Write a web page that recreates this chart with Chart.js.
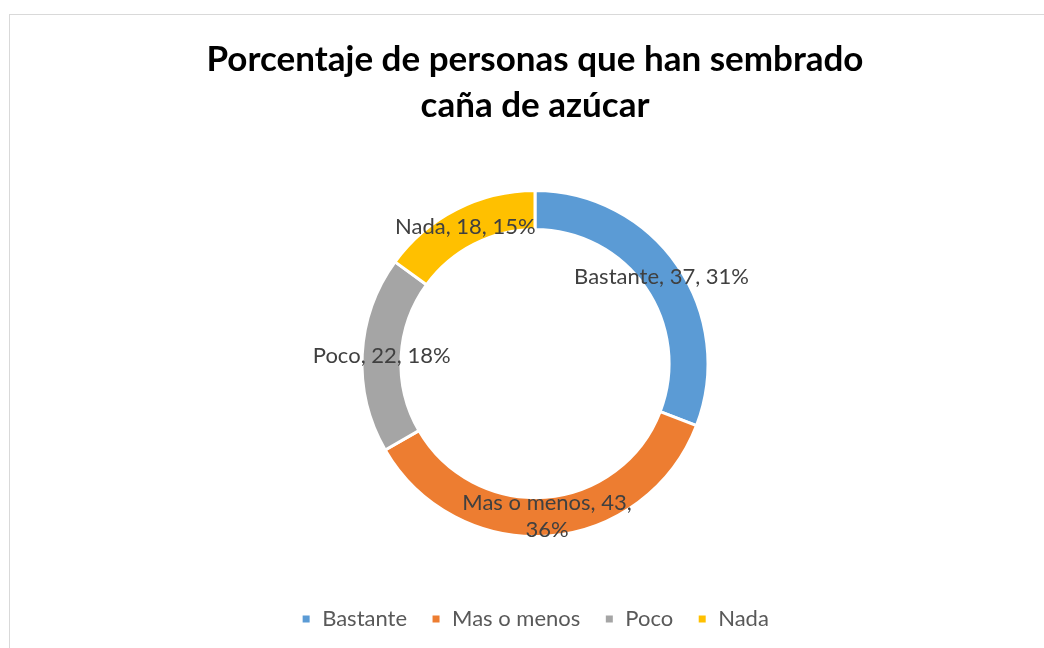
<!DOCTYPE html>
<html>
<head>
<meta charset="utf-8">
<script src="https://cdn.jsdelivr.net/npm/chart.js@4.4.1/dist/chart.umd.min.js"></script>
<style>
  html, body { margin: 0; padding: 0; background: #fff; overflow: hidden; }
  #wrap { position: relative; width: 1044px; height: 648px; }
  #frame { position: absolute; left: 9px; top: 14px; width: 1100px; height: 700px;
           border: 1px solid #d9d9d9; box-sizing: border-box; pointer-events: none; }
  canvas { position: absolute; left: 0; top: 0; }
</style>
</head>
<body>
<div id="wrap">
  <canvas id="chart" width="1044" height="648"></canvas>
  <div id="frame"></div>
</div>
<script>
const categories = ["Bastante", "Mas o menos", "Poco", "Nada"];
const values = [37, 43, 22, 18];
const percents = [31, 36, 18, 15];
const colors = ["#5B9BD5", "#ED7D31", "#A5A5A5", "#FFC000"];
const titleLines = ["Porcentaje de personas que han sembrado", "caña de azúcar"];

// etiquetas estilo Excel: "Categoria, valor, %" en el centro del anillo
const ringLabels = {
  id: "ringLabels",
  afterDatasetsDraw(chart) {
    const ctx = chart.ctx;
    const meta = chart.getDatasetMeta(0);
    ctx.save();
    ctx.font = "22px Lato";
    ctx.fillStyle = "#404040";
    ctx.textAlign = "center";
    ctx.textBaseline = "middle";
    meta.data.forEach((arc, i) => {
      const pos = arc.tooltipPosition();
      const text = categories[i] + ", " + values[i] + ", " + percents[i] + "%";
      let lines = [text];
      if (ctx.measureText(text).width > 190) {
        const parts = text.split(" ");
        const last = parts.pop();
        lines = [parts.join(" "), last];
      }
      const lh = 27;
      const y0 = pos.y - (lines.length - 1) * lh / 2;
      lines.forEach((l, k) => ctx.fillText(l, pos.x, y0 + k * lh));
    });
    ctx.restore();
  }
};

new Chart(document.getElementById("chart"), {
  type: "doughnut",
  data: {
    labels: categories,
    datasets: [{
      data: values,
      backgroundColor: colors,
      borderColor: "#ffffff",
      borderWidth: 3,
      radius: 173,
      cutout: "77.5%"
    }]
  },
  options: {
    responsive: false,
    animation: false,
    layout: { padding: { left: 26, right: 0, top: 0, bottom: 8 } },
    plugins: {
      title: {
        display: true,
        text: titleLines,
        color: "#000",
        font: { family: "Lato", size: 35, weight: "bold", lineHeight: 1.33 },
        padding: { top: 36, bottom: 14 }
      },
      legend: {
        position: "bottom",
        labels: {
          color: "#595959",
          font: { family: "Lato", size: 22 },
          boxWidth: 10,
          boxHeight: 10,
          padding: 24
        }
      },
      tooltip: { enabled: false }
    }
  },
  plugins: [ringLabels]
});
</script>
</body>
</html>
